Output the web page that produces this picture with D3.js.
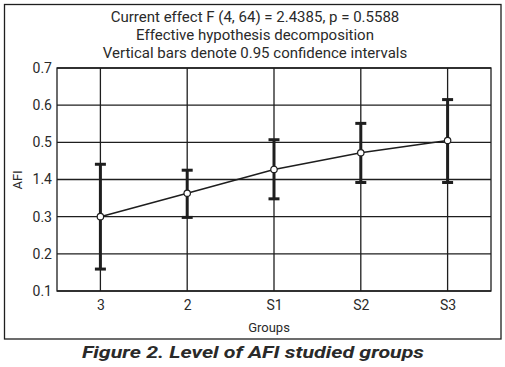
<!DOCTYPE html>
<html><head><meta charset="utf-8">
<script src="https://cdn.jsdelivr.net/npm/d3@7/dist/d3.min.js"></script>
<style>
html,body{margin:0;padding:0;background:#fff;}
svg{display:block;}
text{font-family:Roboto,"Liberation Sans",sans-serif;fill:#2a2a2a;}
</style></head>
<body>
<svg id="chart" width="505" height="367"></svg>
<script>
const groups = ["3", "2", "S1", "S2", "S3"];
const means = [0.300, 0.363, 0.427, 0.472, 0.505];
const lower = [0.159, 0.298, 0.348, 0.392, 0.392];
const upper = [0.441, 0.425, 0.507, 0.551, 0.615];
const yTickValues = [0.1, 0.2, 0.3, 0.4, 0.5, 0.6, 0.7];
const yTickLabels = ["0.1", "0.2", "0.3", "1.4", "0.5", "0.6", "0.7"];
const titleLines = ["Current effect F (4, 64) = 2.4385, p = 0.5588",
  "Effective hypothesis decomposition",
  "Vertical bars denote 0.95 confidence intervals"];
const caption = "Figure 2. Level of AFI studied groups";

const svg = d3.select("#chart");
const L = 57, R = 491, T = 68, B = 291;
const ink = "#1e1e1e";

// outer frame
svg.append("rect").attr("x", 4.5).attr("y", 4.5).attr("width", 496.5).attr("height", 334.5)
  .attr("fill", "none").attr("stroke", ink).attr("stroke-width", 1.3);

const x = d3.scalePoint().domain(groups).range([L, R]).padding(0.5);
const y = d3.scaleLinear().domain([0.1, 0.7]).range([B, T]);

// gridlines
const g = svg.append("g");
g.selectAll(".hg").data(yTickValues).join("line")
  .attr("x1", L).attr("x2", R).attr("y1", d => y(d)).attr("y2", d => y(d))
  .attr("stroke", ink).attr("stroke-width", 1.3);
g.selectAll(".vg").data(groups).join("line")
  .attr("x1", d => x(d)).attr("x2", d => x(d)).attr("y1", T).attr("y2", B)
  .attr("stroke", ink).attr("stroke-width", 1.3);
g.append("rect").attr("x", L).attr("y", T).attr("width", R - L).attr("height", B - T)
  .attr("fill", "none").attr("stroke", ink).attr("stroke-width", 1.3);

// axes
const yAxis = d3.axisLeft(y).tickValues(yTickValues).tickSize(0).tickPadding(5)
  .tickFormat((d, i) => yTickLabels[i]);
const ya = svg.append("g").attr("transform", `translate(${L},0)`).call(yAxis);
ya.select(".domain").remove();
ya.selectAll("text").attr("font-size", 14).attr("fill", "#2a2a2a").attr("font-family", "Roboto,'Liberation Sans',sans-serif");

const xAxis = d3.axisBottom(x).tickSize(0).tickPadding(9);
const xa = svg.append("g").attr("transform", `translate(0,${B})`).call(xAxis);
xa.select(".domain").remove();
xa.selectAll("text").attr("font-size", 14).attr("fill", "#2a2a2a").attr("font-family", "Roboto,'Liberation Sans',sans-serif");

// error bars
const eb = svg.append("g");
groups.forEach((gname, i) => {
  const cx = x(gname);
  eb.append("line").attr("x1", cx).attr("x2", cx).attr("y1", y(lower[i])).attr("y2", y(upper[i]))
    .attr("stroke", ink).attr("stroke-width", 3);
  [lower[i], upper[i]].forEach(v => {
    eb.append("line").attr("x1", cx - 5.5).attr("x2", cx + 5.5).attr("y1", y(v)).attr("y2", y(v))
      .attr("stroke", ink).attr("stroke-width", 3);
  });
});

// mean line
const line = d3.line().x((d, i) => x(groups[i])).y(d => y(d));
svg.append("path").datum(means).attr("d", line).attr("fill", "none")
  .attr("stroke", ink).attr("stroke-width", 1.6);
svg.selectAll(".pt").data(means).join("circle")
  .attr("cx", (d, i) => x(groups[i])).attr("cy", d => y(d)).attr("r", 3.2)
  .attr("fill", "#fff").attr("stroke", ink).attr("stroke-width", 1.2);

// titles
titleLines.forEach((t, i) => {
  svg.append("text").attr("x", 255).attr("y", 22 + i * 18).attr("text-anchor", "middle")
    .attr("font-size", 15).text(t);
});

// axis titles
svg.append("text").attr("x", 269).attr("y", 332).attr("text-anchor", "middle")
  .attr("font-size", 13).text("Groups");
svg.append("text").attr("transform", "translate(22,180) rotate(-90)").attr("text-anchor", "middle")
  .attr("font-size", 13).text("AFI");

// caption
svg.append("text").attr("x", 253).attr("y", 358).attr("text-anchor", "middle")
  .attr("font-size", 16).attr("font-weight", "bold").attr("font-style", "italic")
  .attr("textLength", 342).attr("lengthAdjust", "spacingAndGlyphs")
  .attr("fill", "#1a1a1a").attr("font-family", "'DejaVu Sans',sans-serif").text(caption);
</script>
</body></html>
